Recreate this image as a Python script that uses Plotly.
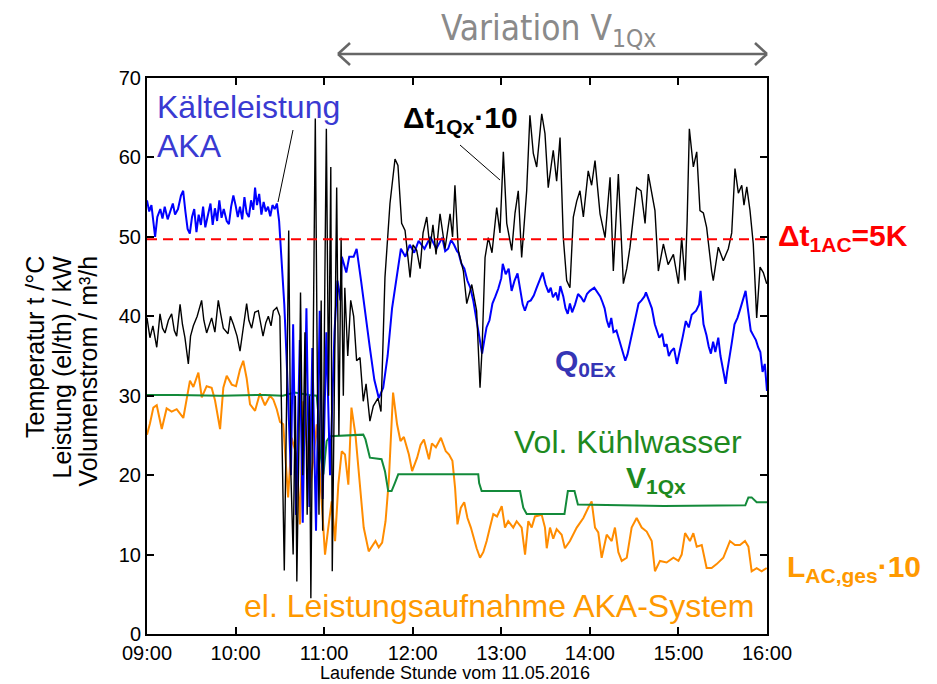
import datetime as dt
import plotly.graph_objects as go

# ---------------------------------------------------------------------------
# Measured series, time in minutes after 09:00 on 11.05.2016
# ---------------------------------------------------------------------------
# Kälteleistung Q0Ex / kW
t_q0ex = [0, 1.5, 3, 4.5, 5.5, 7, 9, 10.5, 12, 14, 16, 17.5, 19, 21, 23, 24.5, 26, 27.5,
          29, 30.5, 32, 33.5, 35, 36.5, 38, 39.5, 41, 43, 44.5, 46, 47.5, 49, 50.5, 52,
          54, 55.5, 57, 58.5, 60, 61.5, 63, 64.5, 66, 67.5, 69, 70.5, 72, 73.2, 74.5, 76,
          77.5, 79, 80.5, 82, 83.5, 85, 86.5, 88, 89.5, 90.5, 91.5, 93, 94.5, 96, 97.5,
          99, 101, 103.5, 105.5, 108, 110, 112, 114.5, 117, 119, 121.5, 124, 127, 129,
          131, 132, 135, 137, 140, 142, 145, 148, 151, 154, 157, 160, 163, 166, 169,
          172, 175, 178, 181, 184, 188, 192, 196,
          200, 202, 204, 206, 208, 210, 211, 213, 215, 217, 219, 221, 223, 225, 227,
          228.5, 230, 232, 234, 236, 238, 240, 241, 243, 245, 247, 249, 251, 253, 254.5,
          256, 258, 260, 262, 264, 266, 268, 270, 272, 273.5, 275, 277, 278.5, 280, 282,
          283.5, 285, 286.5, 288, 290, 292, 294, 296, 298, 300, 303, 305, 307, 308.5, 310,
          311.5, 313, 314.5, 316, 318, 320, 322, 324, 325.5, 327, 329, 331, 333, 335, 337,
          338, 340, 342, 344, 345.5, 347, 349, 350.5, 352, 353.5, 355, 357, 359, 361, 363,
          365, 367, 369, 372, 374, 375, 376, 377, 379, 380.5, 382, 383.5, 385, 387, 388.5,
          390, 392, 393, 394, 396, 398, 400, 402, 404, 405.5, 407, 409, 411, 412.5, 414,
          415.5, 417, 418.5, 420]
q0ex = [54.6, 53.2, 54.0, 51.5, 50.0, 52.5, 53.5, 52.3, 53.8, 52.2, 53.4, 54.2, 52.8, 53.5,
        55.2, 55.8, 53.2, 51.0, 50.4, 52.5, 53.5, 50.6, 52.8, 51.5, 53.8, 51.2, 52.5, 54.2,
        51.5, 53.6, 52.0, 54.6, 52.4, 53.5, 52.0, 51.6, 53.8, 55.2, 54.0, 52.5, 53.8, 52.2,
        55.0, 53.0, 52.5, 54.6, 53.4, 56.2, 54.0, 55.4, 52.8, 54.4, 53.2, 53.8, 52.6, 54.0,
        53.5, 54.2, 52.0, 49.0, 46.2, 41.5, 35.0, 28.0, 20.0,
        39.0, 15.0, 37.0, 14.0, 41.0, 16.0, 36.0, 13.0, 40.7, 17.0, 38.0, 20.0, 38.0, 44.5,
        42.0, 47.5, 45.5, 47.5, 47.5, 48.5, 44.5, 40.0, 36.0, 32.0, 29.7, 31.0, 35.0, 41.0,
        44.5, 48.5, 47.5, 49.0, 48.0, 49.5, 48.5, 50.0, 48.5,
        49.9, 48.2, 48.5, 49.6, 49.0, 48.2, 48.0, 46.6, 46.0, 44.5, 43.6, 42.0, 39.9, 37.5,
        35.3, 37.0, 38.6, 39.5, 41.6, 42.5, 43.5, 44.8, 46.6, 45.3, 46.0, 43.2, 44.5, 45.4,
        43.0, 41.5, 40.7, 41.8, 42.0, 42.6, 43.6, 44.5, 45.5, 44.0, 43.0, 43.6, 42.4, 43.0,
        42.0, 43.8, 42.5, 41.0, 40.3, 41.6, 40.5, 41.5, 42.8, 42.4, 41.8, 42.8, 43.2, 43.6,
        43.0, 42.5, 41.8, 41.0, 39.5, 38.6, 39.8, 38.0, 38.2, 37.0, 35.8, 34.4, 35.2, 36.5,
        38.5, 40.0, 41.6, 42.0, 42.5, 43.0, 42.0, 41.0, 39.0, 38.2, 37.3, 37.8, 36.2, 36.5,
        35.0, 35.6, 36.0, 34.0, 36.0, 37.5, 39.4, 38.6, 40.2, 40.7, 41.5, 43.2, 41.0, 39.0,
        37.6, 36.2, 35.3, 36.8, 35.5, 37.3, 35.0, 33.5, 31.5, 33.0, 34.0, 36.5, 39.0, 39.8,
        41.0, 42.3, 43.2, 41.0, 38.2, 37.5, 37.0, 36.1, 35.5, 33.0, 34.0, 30.6]

# Temperaturspreizung Δt1Qx · 10 / K
t_dt1qx = [0, 2, 4, 6.6, 8.8, 10.5, 12.2, 14.5, 16.7, 18.5, 20.1, 22.4, 24, 25.7, 28, 29.5,
           31.4, 34, 37, 38.5, 40.4, 43.8, 46, 48.3, 50, 51.7, 54.9, 56.5, 58.5, 61, 63,
           65, 67.5, 69, 70.9, 73, 75.4, 78.6, 80.5, 82.2, 84, 85.6, 87.9,
           90, 91.5, 93, 95, 96, 97.5, 99, 100.5, 101.5, 103, 104, 105.5, 107, 108.5, 110,
           111, 112.5, 114, 115.5, 116.5, 118, 119, 120.5, 121.5, 123, 124.5, 125.5, 127,
           128.5, 130, 131.5, 133, 134, 136, 138, 140, 142, 144.3, 146.5, 148.4, 151, 153.3,
           156.5, 158.5, 161.2, 164.6, 168, 170, 172.5, 174.8, 178.2, 180.2, 182.7, 185,
           187, 189.5, 191.7, 193.7, 195.8, 198.5, 201.9, 205.3, 207, 208.6, 210.9, 214.3,
           216.6, 220, 223.3, 225.6, 227, 229, 231.2, 233.7, 236.9, 239.1, 241.4, 243.7,
           247.1, 249.3, 251.5, 253.8, 257.2, 259.4, 261.7, 264, 267.4, 269.6, 271.8, 275.2,
           277.5, 279.8, 282, 284.3, 286.5, 288.8, 291.1, 293.3, 295.6, 298.9, 301.2, 303.5,
           306.9, 310.3, 313.7, 315.9, 319.3, 322.7, 325, 327.2, 331.7, 334.7, 337.4, 339.6,
           341.9, 344.1, 346.4, 349.8, 353, 356.6, 360, 362.2, 364.5, 365.9, 367.4, 370.1,
           372.4, 374.6, 376.9, 379.1, 382.5, 383.6, 387, 390.4, 393.8, 396.1, 398.3, 400.6,
           402.9, 404.4, 406.3, 408.5, 410.7, 413, 415.3, 417.5, 419.8]
dt1qx_x10 = [39.8, 37.3, 38.8, 36.1, 40.3, 38.5, 37.9, 39.5, 40.3, 38.2, 37.5, 41.5, 39.0,
             37.3, 34.0, 37.5, 38.8, 40.0, 42.0, 39.5, 37.9, 39.8, 38.0, 42.0, 40.2, 38.5,
             37.8, 40.0, 39.0, 37.5, 35.6, 38.5, 41.6, 39.5, 38.5, 40.5, 40.7, 37.5, 39.2,
             40.0, 38.8, 40.7, 41.1,
             40.0, 23.0, 8.0, 35.0, 50.8, 20.0, 10.0, 30.0, 6.6, 25.0, 43.0, 20.0, 38.0,
             15.0, 30.0, 4.5, 40.0, 64.9, 30.0, 15.0, 42.0, 13.0, 45.0, 63.6, 30.0, 58.8,
             7.9, 30.0, 56.2, 25.0, 49.9, 30.0, 43.6, 35.0, 42.0, 40.0, 34.4, 34.8, 29.3,
             31.5, 26.8, 28.7, 29.7, 28.0, 44.9, 54.2, 59.8, 59.0, 51.7, 50.8, 44.9, 49.0,
             48.3, 46.0, 50.5, 52.5, 48.5, 51.5, 47.8, 52.9, 48.5, 52.9, 50.0, 56.5, 48.3,
             45.7, 41.6, 44.0, 40.7, 31.0, 36.0, 47.4, 49.9, 48.0, 53.7, 50.5, 60.7, 51.7,
             48.3, 53.0, 55.8, 47.4, 55.8, 65.3, 60.5, 58.8, 65.5, 63.0, 56.2, 60.9, 57.0,
             62.5, 49.9, 44.5, 43.6, 52.5, 54.5, 55.8, 52.5, 58.3, 56.5, 59.6, 52.9, 49.9,
             57.5, 45.7, 57.9, 44.1, 46.0, 48.7, 56.2, 55.8, 51.7, 57.9, 55.5, 53.3, 45.7,
             49.1, 46.5, 47.8, 44.1, 49.9, 44.5, 52.0, 63.6, 58.8, 60.7, 53.3, 53.0, 51.2,
             45.7, 44.5, 48.7, 47.0, 48.5, 50.5, 58.6, 55.5, 56.5, 54.0, 56.3, 53.3, 49.1,
             39.8, 46.2, 45.5, 44.1]

# elektrische Leistungsaufnahme LAC,ges · 10 / kW
t_lac = [0, 2, 4.3, 6.6, 10, 13.3, 16.7, 20.1, 24.6, 29.1, 31.4, 34.8, 37.1, 40.4, 43.8,
         46.1, 49.5, 51.7, 54, 57.4, 60.3, 63, 65.2, 67.5, 69.8, 73.2, 76.5, 79.9, 83.3,
         85.6, 87.9, 90.1, 92.3, 95.6, 98, 101.4, 103.6, 105.9, 108.2, 110.4, 112.7, 115,
         117.2, 120.6, 122.8, 125.1, 127.4, 129.6, 131.9, 134.1, 136.4, 138.5, 141.2, 144.6,
         146.8, 150.2, 154.8, 157, 159.3, 161.6, 163.8, 166.7, 169.4, 171.7, 174, 177.4,
         179.6, 183, 185.3, 187.6, 191, 193, 195.7, 199.1, 202.4, 204.6, 206.9, 208.7,
         210.3, 212.6, 214.9, 217.1, 219.4, 223.3, 225.6, 227.8, 230.1, 232.3, 234.6,
         237.1, 240.3, 242.5, 244.7, 248.1, 250.4, 253.8, 256.1, 258.3, 260.6, 262.8,
         265.1, 267.4, 269.6, 270.8, 273, 275.2, 277.5, 280.9, 283.1, 286.5, 291.1, 295.6,
         298.9, 301.2, 303.5, 305.7, 308, 311.4, 314.8, 317, 319.3, 321.6, 325, 328.3,
         331.7, 335.1, 338.5, 341.9, 344.1, 347.5, 352, 356.6, 360, 362.2, 364.5, 367.8,
         370.1, 372.4, 375.8, 379.1, 382.5, 385.9, 390.4, 394.9, 398.3, 401.7, 405.1,
         407.4, 409.6, 413, 416.4, 419.8]
lac_x10 = [25.1, 26.5, 28.5, 28.8, 25.8, 28.4, 28.0, 28.3, 27.2, 31.9, 31.1, 32.9, 29.8,
           31.2, 31.0, 29.4, 25.8, 31.0, 32.5, 31.4, 31.2, 33.3, 34.4, 32.2, 28.9, 28.1,
           30.3, 28.8, 30.0, 29.5, 28.3, 26.7, 26.4, 17.2, 24.7, 22.4, 13.8, 29.3, 24.0,
           18.4, 22.0, 26.4, 20.0, 10.0, 13.4, 16.7, 11.7, 18.8, 23.0, 22.6, 18.8, 28.5,
           25.1, 17.6, 13.4, 10.4, 11.7, 10.9, 11.5, 14.2, 19.3, 30.4, 26.4, 24.3, 24.8,
           22.6, 20.5, 22.2, 23.8, 24.5, 22.0, 24.0, 23.5, 24.7, 23.0, 22.6, 21.8, 18.4,
           13.8, 15.9, 16.6, 14.6, 13.4, 10.8, 9.6, 10.3, 11.7, 13.4, 15.1, 14.8, 16.1,
           13.4, 14.2, 13.4, 14.2, 13.4, 10.0, 14.2, 13.4, 14.8, 14.9, 15.0, 13.4, 10.8,
           13.4, 12.0, 13.2, 12.5, 10.8, 11.7, 13.4, 14.6, 15.9, 16.7, 13.4, 12.8, 9.6,
           12.5, 11.7, 13.4, 10.3, 9.2, 9.6, 13.4, 14.6, 13.4, 12.9, 11.7, 7.9, 9.2, 9.0,
           9.6, 9.2, 10.0, 12.7, 11.7, 12.7, 11.0, 11.2, 8.3, 8.3, 8.8, 9.6, 11.7, 11.2,
           11.2, 11.7, 11.0, 7.9, 8.3, 7.9, 8.3]

# Volumenstrom Kühlwasser V1Qx / m³/h
t_v1qx = [0, 20, 50, 80, 92, 100, 110, 115, 116, 117.2, 119.5, 121.7, 124, 135, 143,
          146.5, 148, 151, 158.9, 161.2, 163.4, 165.7, 167.9, 170.2, 200, 224.4, 225,
          226.7, 250, 252.7, 254.9, 257.2, 280, 282.8, 285.1, 289.6, 291.9, 320, 350,
          405.3, 407.4, 409.6, 413, 420]
v1qx = [30.1, 30.1, 30.0, 30.1, 30.0, 30.4, 30.1, 30.0, 28.0, 23.0, 20.1, 24.3, 24.9,
        25.0, 25.1, 25.1, 24.5, 22.2, 22.0, 20.5, 18.0, 18.0, 19.0, 20.1, 20.1, 20.1,
        19.0, 18.0, 18.0, 18.0, 15.9, 15.1, 15.1, 15.1, 18.0, 18.0, 16.3, 16.2, 16.1,
        16.2, 17.2, 17.2, 16.6, 16.6]

# Sollwert der Spreizung Δt1AC = 5 K (·10)
t_ref = [0, 420]
dt1ac_x10 = [49.7, 49.7]

y_ticks = [0, 10, 20, 30, 40, 50, 60, 70]
x_tick_labels = ["09:00", "10:00", "11:00", "12:00", "13:00", "14:00", "15:00", "16:00"]

BASE = dt.datetime(2016, 5, 11, 9, 0)


def clock(minutes):
    return [BASE + dt.timedelta(minutes=m) for m in minutes]


# plot box in pixels (937 x 684 canvas)
L, R, T, B = 147, 767, 78, 634


def px(x):
    return (x - L) / (R - L)


def py(y):
    return (B - y) / (B - T)


FONT = "Arial, 'Liberation Sans', sans-serif"

fig = go.Figure()
fig.add_trace(go.Scatter(x=clock(t_lac), y=lac_x10, mode="lines",
                         line=dict(color="#FF8C00", width=2)))
fig.add_trace(go.Scatter(x=clock(t_v1qx), y=v1qx, mode="lines",
                         line=dict(color="#138A3A", width=2)))
fig.add_trace(go.Scatter(x=clock(t_q0ex), y=q0ex, mode="lines",
                         line=dict(color="#0000FF", width=2)))
fig.add_trace(go.Scatter(x=clock(t_dt1qx), y=dt1qx_x10, mode="lines",
                         line=dict(color="#000000", width=1.4)))
fig.add_trace(go.Scatter(x=clock(t_ref), y=dt1ac_x10, mode="lines",
                         line=dict(color="#FF0000", width=2, dash="10px,6px")))

annotations = []


def label(text, x, y, color, size, bold=False, xanchor="left", family=FONT):
    if bold:
        text = "<b>" + text + "</b>"
    annotations.append(dict(text=text, x=px(x), y=py(y), xref="paper", yref="paper",
                            xanchor=xanchor, yanchor="middle", showarrow=False,
                            font=dict(family=family, size=size, color=color)))


label("Kälteleistung", 155, 107, "#3A3AD2", 32)
label("AKA", 155, 146, "#3A3AD2", 32)
label("Δt<sub>1Qx</sub>·10", 401, 120, "#000000", 30, bold=True)
label("Q<sub>0Ex</sub>", 553, 363, "#3535B5", 30, bold=True)
label("Vol. Kühlwasser", 512, 442, "#1E8A1E", 32)
label("V<sub>1Qx</sub>", 624, 479, "#1E8A1E", 30, bold=True)
label("Δt<sub>1AC</sub>=5K", 776, 237, "#FF0000", 30, bold=True)
label("L<sub>AC,ges</sub>·10", 785, 568, "#FF9900", 30, bold=True)
label("el. Leistungsaufnahme AKA-System", 242, 606, "#FF9900", 32)
label("Variation V<sub>1Qx</sub>", 439, 30, "#8A8A8A", 35,
      family="'Liberation Sans Narrow', 'Arial Narrow', 'DejaVu Sans Condensed', sans-serif")

# y-axis title, three lines set individually
for text, xc in [("Temperatur t /°C", 35), ("Leistung (el/th) / kW", 61),
                 ("Volumenstrom / m³/h", 87)]:
    annotations.append(dict(text=text, x=px(xc), y=py(254), xref="paper", yref="paper",
                            xanchor="center", yanchor="top", textangle=-90,
                            showarrow=False,
                            font=dict(family=FONT, size=25, color="#000000")))

annotations.append(dict(text="Laufende Stunde vom 11.05.2016", x=px(455), y=py(673),
                        xref="paper", yref="paper", xanchor="center", yanchor="middle",
                        showarrow=False, font=dict(family=FONT, size=18, color="#000000")))

shapes = []


def seg(x0, y0, x1, y1, color, width):
    shapes.append(dict(type="line", xref="paper", yref="paper",
                       x0=px(x0), y0=py(y0), x1=px(x1), y1=py(y1),
                       line=dict(color=color, width=width)))


# leader lines
seg(293, 130, 278, 202, "#000000", 1)
seg(460, 145, 500, 180, "#000000", 1)
# double arrow above the plot
seg(338, 54, 767, 54, "#666666", 2.5)
seg(338, 54, 350, 43, "#666666", 2.5)
seg(338, 54, 350, 65, "#666666", 2.5)
seg(767, 54, 755, 43, "#666666", 2.5)
seg(767, 54, 755, 65, "#666666", 2.5)

fig.update_layout(
    width=937, height=684,
    margin=dict(l=L, r=937 - R, t=T, b=684 - B),
    paper_bgcolor="white", plot_bgcolor="white",
    showlegend=False,
    annotations=annotations,
    shapes=shapes,
    font=dict(family=FONT, color="#000000"),
    xaxis=dict(
        range=[BASE, BASE + dt.timedelta(hours=7)],
        tickvals=clock([60 * i for i in range(8)]),
        ticktext=x_tick_labels,
        ticks="inside", ticklen=7, tickwidth=2, tickcolor="#000000",
        showline=True, linewidth=2, linecolor="#000000", mirror="ticks",
        showgrid=False, zeroline=False,
        tickfont=dict(family=FONT, size=20, color="#000000"),
    ),
    yaxis=dict(
        range=[0, 70],
        tickvals=y_ticks,
        ticks="inside", ticklen=7, tickwidth=2, tickcolor="#000000",
        showline=True, linewidth=2, linecolor="#000000", mirror="ticks",
        showgrid=False, zeroline=False,
        tickfont=dict(family=FONT, size=20, color="#000000"),
    ),
)

fig.write_html("out.html")
